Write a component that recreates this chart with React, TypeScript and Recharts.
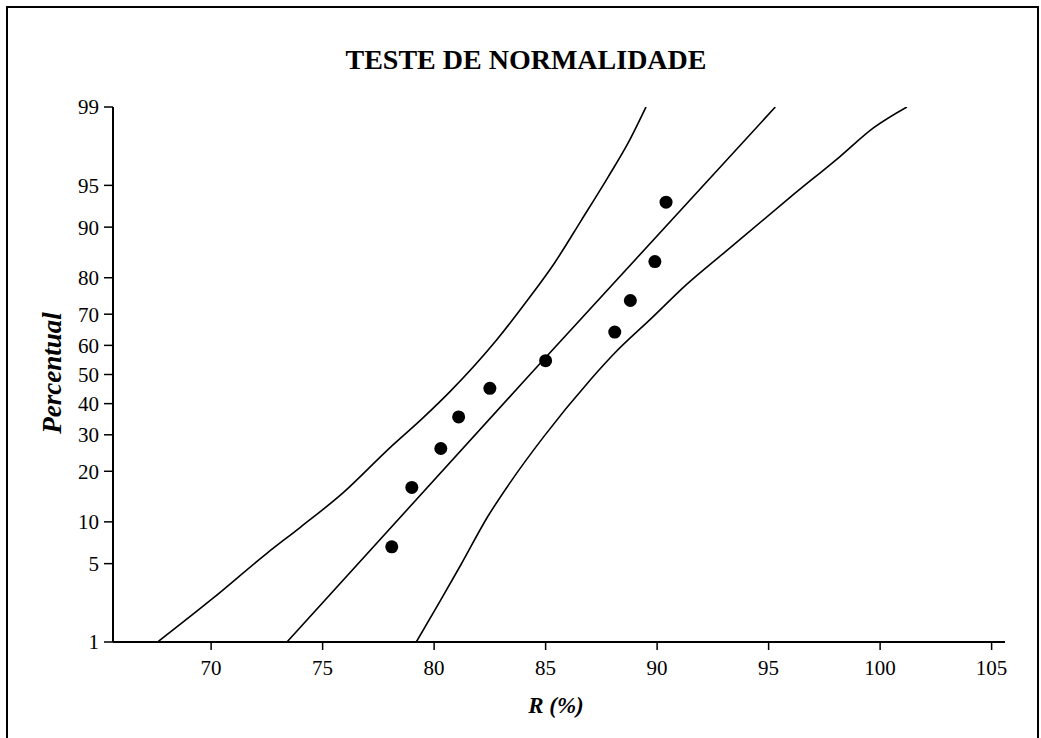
import React from 'react'
import { ComposedChart, Line, Scatter, XAxis, YAxis } from 'recharts'

// normal probability plot
const X_TICKS = [70, 75, 80, 85, 90, 95, 100, 105]
const PCT_TICKS = [1, 5, 10, 20, 30, 40, 50, 60, 70, 80, 90, 95, 99]

// observations
const R_VALUES = [78.1, 79.0, 80.3, 81.1, 82.5, 85.0, 88.1, 88.8, 89.9, 90.4]
const PERCENTIS = [6.7, 16.3, 26.0, 35.6, 45.2, 54.8, 64.4, 74.0, 83.7, 93.3]

// fitted line
const FIT_R = [73.4, 84.3, 95.3]
const FIT_PCT = [1, 50, 99]

// left confidence band
const UPPER_R = [67.6, 70.1, 72.5, 74.0, 75.9, 78.0, 79.5, 80.7, 82.8, 84.2, 85.4, 86.6, 87.8, 88.7, 89.5]
const UPPER_PCT = [1, 2.6, 6.0, 9.2, 15.1, 26.1, 35.3, 44.0, 61.8, 74.2, 83.4, 91.0, 95.7, 97.8, 99]

// right confidence band
const LOWER_R = [79.2, 80.3, 81.2, 82.4, 83.4, 84.9, 87.0, 88.1, 89.8, 91.3, 93.0, 96.0, 98.2, 99.7, 101.2]
const LOWER_PCT = [1, 2.5, 4.9, 10.8, 17.3, 29.3, 48.1, 57.4, 69.1, 78.2, 85.5, 93.9, 97.1, 98.4, 99]

const FONT = '"Liberation Serif", "Times New Roman", serif'

// inverse normal CDF (Acklam) - gives the probability scale of the y axis
function probit(p: number) {
  const a = [-39.69683028665376, 220.9460984245205, -275.9285104469687, 138.357751867269, -30.66479806614716, 2.506628277459239]
  const b = [-54.47609879822406, 161.5858368580409, -155.6989798598866, 66.80131188771972, -13.28068155288572]
  const c = [-0.007784894002430293, -0.3223964580411365, -2.400758277161838, -2.549732539343734, 4.374664141464968, 2.938163982698783]
  const d = [0.007784695709041462, 0.3224671290700398, 2.445134137142996, 3.754408661907416]
  const plow = 0.02425
  if (p < plow) {
    const q = Math.sqrt(-2 * Math.log(p))
    return (((((c[0] * q + c[1]) * q + c[2]) * q + c[3]) * q + c[4]) * q + c[5]) /
      ((((d[0] * q + d[1]) * q + d[2]) * q + d[3]) * q + 1)
  }
  if (p > 1 - plow) {
    const q = Math.sqrt(-2 * Math.log(1 - p))
    return -(((((c[0] * q + c[1]) * q + c[2]) * q + c[3]) * q + c[4]) * q + c[5]) /
      ((((d[0] * q + d[1]) * q + d[2]) * q + d[3]) * q + 1)
  }
  const q = p - 0.5
  const r = q * q
  return (((((a[0] * r + a[1]) * r + a[2]) * r + a[3]) * r + a[4]) * r + a[5]) * q /
    (((((b[0] * r + b[1]) * r + b[2]) * r + b[3]) * r + b[4]) * r + 1)
}

const toZ = (pct: number) => probit(pct / 100)

const toRows = (xs: number[], ps: number[]) => xs.map((x, i) => ({ x, z: toZ(ps[i]) }))

const Y_TICKS = PCT_TICKS.map(toZ)
const Y_DOMAIN = [toZ(1), toZ(99)]
const X_DOMAIN = [65.6, 105.6]

const formatY = (z: number) => {
  const i = Y_TICKS.findIndex(t => Math.abs(t - z) < 1e-6)
  return i >= 0 ? String(PCT_TICKS[i]) : ''
}

const Dot = (props: any) => <circle cx={props.cx} cy={props.cy} r={6.5} fill="#000" />

export default function App() {
  const points = toRows(R_VALUES, PERCENTIS)
  const fit = toRows(FIT_R, FIT_PCT)
  const upper = toRows(UPPER_R, UPPER_PCT)
  const lower = toRows(LOWER_R, LOWER_PCT)

  const tickStyle = { fill: '#000', fontSize: 21, fontFamily: FONT }

  return (
    <div style={{ position: 'absolute', left: 0, top: 0, width: 1041, height: 738, overflow: 'hidden', background: '#fff' }}>
      <div
        style={{
          position: 'absolute', left: 6, top: 6, width: 1033, height: 760,
          border: '2px solid #000', boxSizing: 'border-box'
        }}
      />
      <div
        style={{
          position: 'absolute', left: 0, width: 1052, top: 46, textAlign: 'center',
          fontFamily: FONT, fontWeight: 'bold', fontSize: 28, lineHeight: '28px', color: '#000'
        }}
      >
        TESTE DE NORMALIDADE
      </div>
      <div
        style={{
          position: 'absolute', left: 52, top: 373, transform: 'translate(-50%, -50%) rotate(-90deg)',
          fontFamily: FONT, fontWeight: 'bold', fontStyle: 'italic', fontSize: 27, whiteSpace: 'nowrap', color: '#000'
        }}
      >
        Percentual
      </div>
      <div
        style={{
          position: 'absolute', left: 556, top: 706, transform: 'translate(-50%, -50%)',
          fontFamily: FONT, fontWeight: 'bold', fontStyle: 'italic', fontSize: 23, whiteSpace: 'nowrap', color: '#000'
        }}
      >
        R (%)
      </div>
      <div style={{ position: 'absolute', left: 0, top: 0 }}>
        <ComposedChart width={1041} height={738} margin={{ top: 107, right: 36, left: 53, bottom: 56 }}>
          <XAxis
            xAxisId="main"
            dataKey="x"
            type="number"
            domain={X_DOMAIN}
            ticks={X_TICKS}
            allowDataOverflow
            axisLine={{ stroke: '#000', strokeWidth: 2 }}
            tickLine={{ stroke: '#000', strokeWidth: 1.5 }}
            tickSize={8}
            tickMargin={10}
            tick={tickStyle}
            height={40}
          />
          <XAxis
            xAxisId="top"
            orientation="top"
            type="number"
            domain={X_DOMAIN}
            allowDataOverflow
            axisLine={{ stroke: '#000', strokeWidth: 2 }}
            tick={false}
            tickLine={false}
            height={0}
          />
          <YAxis
            yAxisId="main"
            type="number"
            domain={Y_DOMAIN}
            ticks={Y_TICKS}
            allowDataOverflow
            tickFormatter={formatY}
            axisLine={{ stroke: '#000', strokeWidth: 2 }}
            tickLine={{ stroke: '#000', strokeWidth: 1.5 }}
            tickSize={9}
            tickMargin={5}
            tick={tickStyle}
            width={60}
            interval={0}
          />
          <YAxis
            yAxisId="right"
            orientation="right"
            type="number"
            domain={Y_DOMAIN}
            allowDataOverflow
            axisLine={{ stroke: '#000', strokeWidth: 2 }}
            tick={false}
            tickLine={false}
            width={0}
          />
          <Line
            xAxisId="main" yAxisId="main"
            data={upper} dataKey="z" type="monotone"
            stroke="#000" strokeWidth={1.6} dot={false} activeDot={false}
            isAnimationActive={false}
          />
          <Line
            xAxisId="main" yAxisId="main"
            data={fit} dataKey="z" type="linear"
            stroke="#000" strokeWidth={1.6} dot={false} activeDot={false}
            isAnimationActive={false}
          />
          <Line
            xAxisId="main" yAxisId="main"
            data={lower} dataKey="z" type="monotone"
            stroke="#000" strokeWidth={1.6} dot={false} activeDot={false}
            isAnimationActive={false}
          />
          <Scatter
            xAxisId="main" yAxisId="main"
            data={points} dataKey="z"
            shape={Dot}
            isAnimationActive={false}
          />
        </ComposedChart>
      </div>
    </div>
  )
}
